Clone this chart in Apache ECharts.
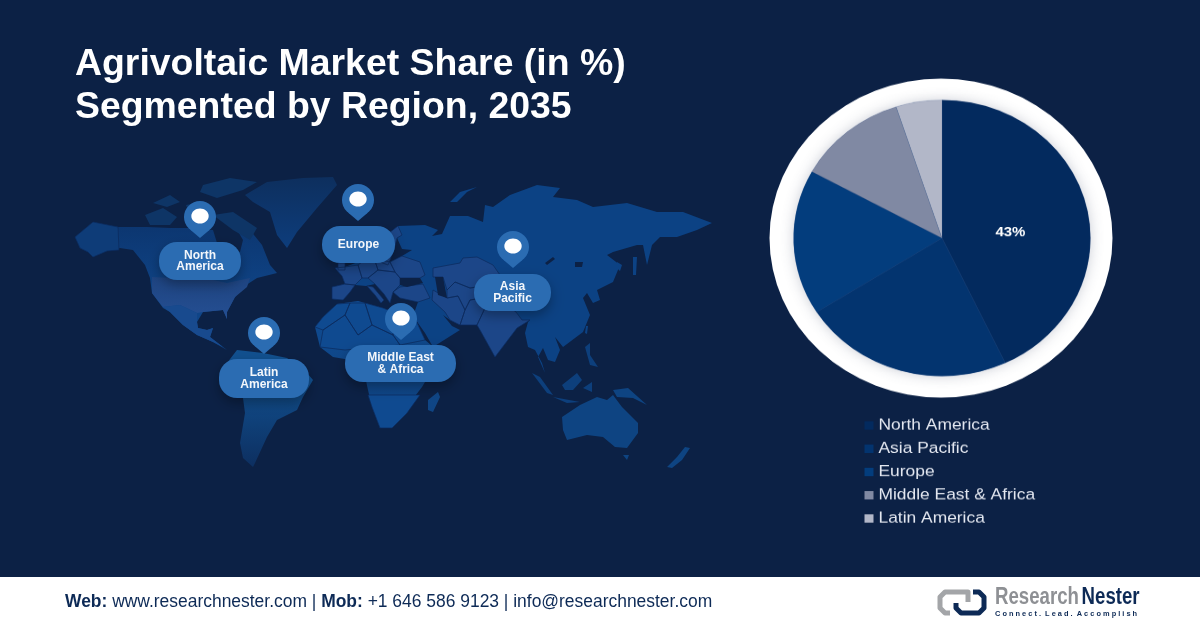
<!DOCTYPE html>
<html>
<head>
<meta charset="utf-8">
<title>Agrivoltaic Market Share</title>
<style>
  html, body { margin: 0; padding: 0; background: #0c2145; overflow: hidden; }
  #main { position: absolute; left: 0; top: 0; width: 1200px; height: 628px; }
  /* the pie in the picture is a slightly flattened circle */
  #panel { position: absolute; left: 760px; top: 0; width: 400px; height: 675px; transform-origin: 0 0; transform: scaleY(0.93); }
</style>
<script src="https://cdn.jsdelivr.net/npm/echarts@6/dist/echarts.min.js"></script>
</head>
<body>
<div id="main"></div>
<div id="panel"></div>
<script>
// chart values
const regions = ["North America", "Asia Pacific", "Europe", "Middle East & Africa", "Latin America"];
const shares = [43, 23, 17, 12, 5];
const sliceColors = ["#032a5e", "#03346f", "#033d7d", "#8089a3", "#b2b7c8"];

const titleLines = ["Agrivoltaic Market Share (in %)", "Segmented by Region, 2035"];

// map callouts: label and the spot of the pin tip
const callouts = [
  { label: "North\nAmerica", tip: [200, 238], box: [159, 242, 82, 38] },
  { label: "Europe", tip: [358, 221], box: [322, 226, 73, 37] },
  { label: "Asia\nPacific", tip: [513, 268], box: [474, 274, 77, 37] },
  { label: "Latin\nAmerica", tip: [264, 354], box: [219, 359, 90, 39] },
  { label: "Middle East\n& Africa", tip: [401, 340], box: [345, 345, 111, 37] },
];

// hand traced land outlines, there is no world map available offline
const worldOutlines = {
  northAmerica: [[[75,237],[93,222],[118,227],[147,227],[170,228],[190,228],[213,230],[217,243],[230,248],[240,252],[243,240],[236,228],[250,230],[262,245],[270,265],[277,273],[257,278],[243,287],[235,297],[227,312],[227,319],[223,310],[203,312],[197,322],[198,328],[207,330],[213,328],[210,337],[223,347],[227,350],[213,342],[197,335],[183,325],[170,312],[163,308],[152,293],[150,278],[145,265],[133,250],[120,248],[107,251],[93,257],[88,252],[80,248]]],
  arctic: [[[145,215],[163,208],[177,217],[170,225],[150,225]],[[153,203],[170,195],[180,202],[167,207]],[[203,185],[230,178],[257,182],[243,190],[217,198],[200,192]],[[213,215],[233,212],[257,228],[250,240],[233,230]],[[186,205],[200,202],[204,214],[190,216]]],
  greenland: [[[245,195],[267,182],[303,178],[333,177],[337,185],[317,208],[297,232],[287,248],[277,235],[270,212],[253,202]]],
  alaska: [[[75,237],[93,222],[118,227],[119,250],[107,251],[93,257],[88,252],[80,248]]],
  usa: [[[152,277],[213,280],[227,283],[250,278],[247,287],[235,297],[227,312],[227,319],[223,310],[203,312],[197,313],[180,305],[163,307],[152,293]]],
  mexico: [[[163,307],[180,305],[197,313],[197,322],[198,328],[207,330],[213,328],[210,337],[223,347],[213,342],[197,335],[183,325],[170,312]]],
  southAmerica: [[[237,350],[263,353],[287,358],[307,373],[313,380],[303,397],[297,410],[277,420],[267,437],[255,463],[253,467],[243,458],[240,443],[245,413],[243,398],[220,380],[227,363]]],
  eurasia: [[[332,287],[345,284],[342,276],[335,268],[345,267],[358,262],[368,258],[374,255],[378,262],[390,262],[402,256],[412,250],[402,249],[397,238],[394,250],[388,265],[380,262],[377,250],[380,240],[398,226],[425,225],[438,230],[432,236],[442,234],[450,216],[468,216],[483,222],[485,205],[493,207],[510,195],[537,185],[560,188],[553,197],[577,200],[593,207],[627,203],[657,212],[683,212],[712,223],[697,230],[677,237],[660,237],[652,245],[647,265],[643,245],[637,245],[613,252],[607,255],[620,265],[613,282],[597,290],[600,300],[593,303],[587,293],[583,298],[590,315],[583,332],[563,347],[555,337],[560,350],[555,362],[548,360],[543,348],[538,357],[545,373],[542,363],[535,350],[528,347],[525,333],[528,322],[530,320],[517,328],[495,357],[480,330],[477,325],[460,325],[450,320],[443,315],[452,326],[460,330],[433,347],[425,333],[413,316],[418,302],[400,298],[393,292],[390,303],[384,294],[375,284],[366,286],[355,285],[350,292],[343,300],[332,299]],[[367,286],[373,287],[384,300],[381,303],[375,295]],[[450,202],[460,192],[477,187],[467,192],[457,202]],[[633,257],[637,257],[636,275],[633,275]],[[617,262],[622,265],[620,271],[617,268]],[[586,326],[588,326],[587,334],[585,333]]],
  westEurope: [[[345,284],[342,276],[335,268],[345,267],[358,265],[362,278],[355,285]],[[332,287],[345,284],[355,285],[350,292],[343,300],[332,299]],[[358,265],[362,262],[374,258],[378,270],[368,278],[362,278]],[[374,258],[390,262],[395,272],[378,270]],[[368,278],[378,270],[395,272],[400,278],[400,285],[393,292],[390,303],[384,294],[375,284]],[[390,262],[402,256],[420,262],[425,275],[420,278],[400,278],[395,272]],[[393,292],[400,287],[423,284],[430,298],[418,302],[400,298]],[[367,286],[373,287],[384,300],[381,303],[375,295]],[[338,263],[345,263],[345,270],[338,270]],[[380,240],[398,226],[402,235],[397,238],[394,250],[388,265],[380,262],[377,250]]],
  midAsia: [[[433,268],[460,263],[463,258],[477,257],[493,265],[500,275],[490,285],[470,288],[455,282],[447,290],[443,277],[433,277]],[[433,290],[447,298],[458,296],[465,310],[460,325],[450,320],[445,312],[432,300]],[[447,290],[455,282],[470,288],[490,285],[482,298],[470,300],[465,310],[458,296],[447,298]],[[465,310],[470,300],[482,298],[485,308],[477,325],[460,325]],[[485,308],[500,300],[516,312],[522,320],[530,320],[517,328],[495,357],[480,330],[477,325]]],
  africa: [[[337,304],[358,301],[383,308],[397,313],[413,314],[425,340],[443,355],[425,382],[422,387],[412,400],[407,413],[392,428],[380,428],[372,407],[368,390],[362,362],[333,357],[320,347],[315,327],[323,317]],[[428,400],[438,392],[440,397],[433,412],[428,410]]],
  africaNorth: [[[337,304],[350,303],[345,315],[323,330],[315,327],[323,317]],[[350,303],[365,303],[372,325],[358,335],[345,315]],[[365,303],[383,308],[395,313],[393,335],[372,325]],[[395,313],[413,314],[425,340],[400,345],[393,335]],[[323,330],[345,315],[358,335],[372,325],[393,335],[400,345],[345,350],[320,347]],[[368,395],[420,395],[407,413],[392,428],[380,428],[372,407]]],
  oceania: [[[562,417],[580,405],[597,397],[607,400],[613,395],[622,407],[638,423],[638,433],[627,448],[615,447],[603,437],[587,435],[567,440],[563,430]],[[623,455],[629,455],[627,460]],[[667,467],[677,457],[685,447],[690,448],[682,460],[672,468]],[[613,390],[628,388],[647,405],[633,398],[617,397]]],
  archipelago: [[[562,385],[577,373],[582,380],[573,390],[565,390]],[[532,373],[540,377],[553,395],[547,393]],[[553,397],[580,402],[567,403]],[[585,347],[590,343],[590,355],[598,367],[590,365]],[[583,388],[592,382],[592,392]]],
  inlandSeas: [[[400,278],[420,278],[423,283],[407,287],[400,285]],[[435,277],[443,277],[447,298],[438,295]],[[545,263],[553,257],[555,259],[547,265]],[[575,262],[583,262],[582,267],[575,267]]],
};

const fade = (top, bottom, y0, y1) => ({
  type: "linear", global: true, x: 0, y: y0, x2: 0, y2: y1,
  colorStops: [{ offset: 0, color: top }, { offset: 1, color: bottom }],
});

const landFills = {
  northAmerica: fade("#0c3670", "#0f4588", 225, 300),
  arctic: "#0e3566",
  greenland: fade("#0d2f5e", "#0d3d7c", 178, 248),
  alaska: "#0e3c78",
  usa: fade("#1e4481", "#254f93", 277, 320),
  mexico: "#184a8e",
  southAmerica: fade("#11508f", "#0d2f60", 380, 467),
  eurasia: "#0c4284",
  westEurope: "#1c4688",
  midAsia: "#1c4688",
  africa: fade("#0f4a90", "#0f4482", 305, 428),
  africaNorth: "#0f4a90",
  oceania: "#0e4482",
  archipelago: "#0d3f7c",
  inlandSeas: "#0c2145",
};

const borderedParts = ["westEurope", "midAsia", "africaNorth", "alaska"];

const worldGeo = {
  type: "FeatureCollection",
  features: Object.keys(worldOutlines).map((name) => ({
    type: "Feature",
    properties: { name },
    geometry: { type: "MultiPolygon", coordinates: worldOutlines[name].map((ring) => [ring]) },
  })),
};
echarts.registerMap("world", worldGeo);

const mainFont = '"Liberation Sans", Arial, sans-serif';
const navy = "#0d2a56";

// pins and rounded labels on top of the map
const calloutGraphics = [];
callouts.forEach((c) => {
  const [x, y, w, h] = c.box;
  const [tx, ty] = c.tip;
  calloutGraphics.push({
    type: "rect",
    shape: { x, y, width: w, height: h, r: 18 },
    style: { fill: "#2b6cb2", shadowBlur: 12, shadowOffsetY: 5, shadowColor: "rgba(0,0,0,0.3)" },
  });
  calloutGraphics.push({
    type: "text",
    x: x + w / 2,
    y: y + h / 2,
    style: {
      text: c.label,
      fill: "#f4f7fb",
      font: "bold 12px " + mainFont,
      lineHeight: 11.5,
      align: "center",
      verticalAlign: "middle",
    },
  });
  // head of the pin plus its tapered point
  calloutGraphics.push({
    type: "circle",
    shape: { cx: tx, cy: ty - 21, r: 16 },
    style: { fill: "#2b6cb2" },
  });
  calloutGraphics.push({
    type: "polygon",
    shape: { points: [[tx - 10, ty - 8.5], [tx + 10, ty - 8.5], [tx, ty]] },
    style: { fill: "#2b6cb2" },
  });
  calloutGraphics.push({
    type: "ellipse",
    shape: { cx: tx, cy: ty - 22, rx: 8.7, ry: 7.6 },
    style: { fill: "#ffffff" },
  });
});

const footerGraphics = [
  { type: "rect", shape: { x: 0, y: 577, width: 1200, height: 51 }, style: { fill: "#ffffff" } },
  {
    type: "text",
    x: 65,
    y: 602,
    style: {
      text: "{b|Web:} www.researchnester.com | {b|Mob:} +1 646 586 9123 | info@researchnester.com",
      font: "17.45px " + mainFont,
      fill: navy,
      verticalAlign: "middle",
      rich: { b: { font: "bold 17.45px " + mainFont, fill: navy } },
    },
  },
  {
    type: "polyline",
    shape: { points: [[968, 602], [968, 592], [945, 592], [940, 597], [940, 608], [945, 613], [950, 613]] },
    style: { fill: null, stroke: "#a3a5a8", lineWidth: 5, lineJoin: "round" },
  },
  {
    type: "polyline",
    shape: { points: [[956, 603], [956, 608], [961, 613], [979, 613], [984, 608], [984, 597], [979, 592], [973, 592]] },
    style: { fill: null, stroke: navy, lineWidth: 5, lineJoin: "round" },
  },
  {
    type: "text",
    x: 995,
    y: 598,
    scaleX: 0.81,
    style: {
      text: "{g|Research} {n|Nester}",
      verticalAlign: "middle",
      rich: {
        g: { font: "bold 23px " + mainFont, fill: "#8e9094" },
        n: { font: "bold 23px " + mainFont, fill: navy },
      },
    },
  },
  {
    type: "text",
    x: 995,
    y: 614,
    style: { text: "C o n n e c t .  L e a d .  A c c o m p l i s h", font: "bold 7.4px " + mainFont, fill: navy, verticalAlign: "middle" },
  },
];

const mainChart = echarts.init(document.getElementById("main"), null, { renderer: "canvas" });
mainChart.setOption({
  animation: false,
  backgroundColor: "#0c2145",
  title: {
    text: titleLines.join("\n"),
    left: 75,
    top: 43,
    padding: 0,
    textStyle: { color: "#ffffff", fontFamily: mainFont, fontWeight: "bold", fontSize: 37.4, lineHeight: 43 },
  },
  geo: {
    map: "world",
    silent: true,
    roam: false,
    left: 0,
    top: 0,
    right: 0,
    bottom: 0,
    boundingCoords: [[0, 0], [1200, 628]],
    projection: { project: (p) => p, unproject: (p) => p },
    label: { show: false },
    itemStyle: { borderWidth: 0, areaColor: "#0b3f80" },
    regions: Object.keys(landFills).map((name) => ({
      name,
      itemStyle: {
        areaColor: landFills[name],
        borderWidth: borderedParts.includes(name) ? 0.7 : 0,
        borderColor: "#0c2a5c",
      },
    })),
  },
  graphic: { elements: calloutGraphics.concat(footerGraphics).map((el) => ({ ...el, z: 100 })) },
});

// the right hand panel: white ring, pie and legend
const panelChart = echarts.init(document.getElementById("panel"), null, { renderer: "canvas" });
const pieCenter = [182, 256];
panelChart.setOption({
  animation: false,
  backgroundColor: "transparent",
  legend: {
    orient: "vertical",
    left: 99.5,
    top: 444,
    icon: "rect",
    itemWidth: 9,
    itemHeight: 9,
    itemGap: 8,
    selectedMode: false,
    itemStyle: { borderWidth: 0 },
    textStyle: { color: "#e3e7f0", fontFamily: mainFont, fontSize: 17.4 },
    data: regions,
  },
  graphic: {
    elements: [
      {
        type: "ring",
        z: 1,
        shape: { cx: pieCenter[0] - 1, cy: pieCenter[1], r: 171.5, r0: 145 },
        style: { fill: "#ffffff" },
      },
      {
        type: "circle",
        z: 2,
        shape: { cx: pieCenter[0], cy: pieCenter[1], r: 148 },
        style: { fill: "#032a5e", shadowBlur: 14, shadowColor: "rgba(70,80,110,0.3)" },
      },
    ],
  },
  series: [
    {
      type: "pie",
      z: 5,
      center: pieCenter,
      radius: [0, 148.5],
      startAngle: 90,
      clockwise: true,
      silent: true,
      data: regions.map((name, i) => ({ name, value: shares[i], itemStyle: { color: sliceColors[i] } })),
      itemStyle: { borderColor: "rgba(70,100,150,0.35)", borderWidth: 0.5 },
      labelLine: { show: false },
      label: {
        show: true,
        position: "inside",
        color: "#ffffff",
        fontFamily: mainFont,
        fontWeight: "bold",
        fontSize: 15,
        formatter: (p) => (p.dataIndex === 0 ? p.value + "%" : ""),
      },
      labelLayout: { dx: -7, dy: 11 },
    },
  ],
});
</script>
</body>
</html>
